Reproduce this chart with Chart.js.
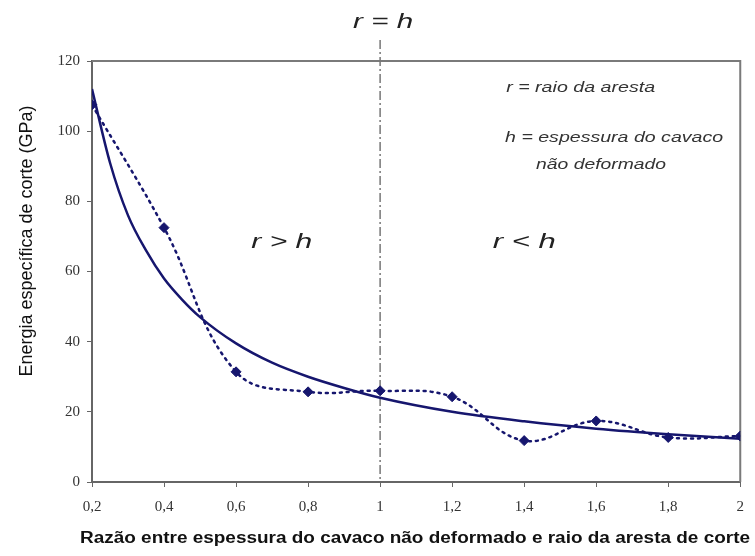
<!DOCTYPE html>
<html>
<head>
<meta charset="utf-8">
<script src="https://cdn.jsdelivr.net/npm/chart.js@4/dist/chart.umd.min.js"></script>
<style>
  html, body { margin: 0; padding: 0; background: #fff; }
  #wrap { width: 755px; height: 556px; }
</style>
</head>
<body>
<div id="wrap"><canvas id="chart" width="755" height="556"></canvas></div>
<script>
////////////
//// Data

let xTicks = [0.2, 0.4, 0.6, 0.8, 1, 1.2, 1.4, 1.6, 1.8, 2];
let yTicks = [0, 20, 40, 60, 80, 100, 120];

// measured points (dotted line with diamonds)
let measX = [0.2, 0.4, 0.6, 0.8, 1.0, 1.2, 1.4, 1.6, 1.8, 2.0];
let measY = [107.5, 72.5, 31.4, 25.7, 26.0, 24.3, 11.8, 17.4, 12.7, 13.1];

// trend curve (solid line)
let trendX = [0.2, 0.25, 0.3, 0.35, 0.4, 0.45, 0.5, 0.6, 0.7, 0.8, 0.9, 1.0, 1.2, 1.4, 1.6, 1.8, 2.0];
let trendY = [112, 91, 76, 66, 58, 52, 47, 39.5, 34, 30, 26.8, 24, 20, 17.3, 15.2, 13.6, 12.3];

let dividerX = 1;

let NAVY = '#16166e';
let SANS = '"Liberation Sans", Arial, sans-serif';
let SERIF = '"Liberation Serif", "Times New Roman", serif';

////////////
//// Helpers

function toPoints(xs, ys) {
	let pts = [];
	for (let i = 0; i < xs.length; ++i) pts.push({x: xs[i], y: ys[i]});
	return pts;
}

function fmt(v) {
	return String(Number(v.toFixed(1))).replace('.', ',');
}

// the source picture is stretched sideways, so text is squeezed to a width
function fitText(c, text, x, y, width, font, align) {
	c.save();
	c.font = font;
	let w = c.measureText(text).width;
	let k = width / w;
	let left = align === 'center' ? x - width / 2 : x;
	c.translate(left, y);
	c.scale(k, 1);
	c.textAlign = 'left';
	c.textBaseline = 'middle';
	c.fillText(text, 0, 0);
	c.restore();
}

// frame, divider line, axis titles and the notes inside the plot
let extras = {
	id: 'extras',
	beforeDatasetsDraw(chart) {
		let c = chart.ctx, a = chart.chartArea;
		let xs = chart.scales.x;
		c.save();
		c.strokeStyle = '#7a7a7a';
		c.lineWidth = 2;
		c.beginPath();
		c.moveTo(a.left, a.top);
		c.lineTo(a.right, a.top);
		c.lineTo(a.right, a.bottom);
		c.stroke();
		let px = xs.getPixelForValue(dividerX);
		c.strokeStyle = '#777';
		c.lineWidth = 1.5;
		c.setLineDash([9, 3, 2, 3]);
		c.beginPath();
		c.moveTo(px, 40);
		c.lineTo(px, a.bottom);
		c.stroke();
		c.restore();
	},
	afterDraw(chart) {
		let c = chart.ctx;
		let xs = chart.scales.x, ys = chart.scales.y;
		let big = 'italic 21px ' + SANS;
		let small = 'italic 14px ' + SANS;

		c.save();
		c.fillStyle = '#222';
		fitText(c, 'r = h', xs.getPixelForValue(dividerX) + 3, 22, 60, big, 'center');
		fitText(c, 'r > h', xs.getPixelForValue(0.727), ys.getPixelForValue(68.4), 61, big, 'center');
		fitText(c, 'r < h', xs.getPixelForValue(1.40), ys.getPixelForValue(68.4), 63, big, 'center');

		c.fillStyle = '#333';
		fitText(c, 'r = raio da aresta', xs.getPixelForValue(1.35), ys.getPixelForValue(112.3), 149, small);
		fitText(c, 'h = espessura do cavaco', xs.getPixelForValue(1.347), ys.getPixelForValue(98), 218, small);
		fitText(c, 'não deformado', xs.getPixelForValue(1.433), ys.getPixelForValue(90.4), 130, small);

		// axis titles
		c.fillStyle = '#111';
		c.font = '18px ' + SANS;
		c.textAlign = 'center';
		c.textBaseline = 'middle';
		c.translate(27, 241);
		c.rotate(-Math.PI / 2);
		c.fillText('Energia específica de corte (GPa)', 0, 0, 283);
		c.restore();

		c.save();
		c.fillStyle = '#111';
		fitText(c, 'Razão entre espessura do cavaco não deformado e raio da aresta de corte',
			415, 539, 670, 'bold 16px ' + SANS, 'center');
		c.restore();
	}
};

////////////
//// Chart

let ctx = document.getElementById('chart').getContext('2d');
let chart = new Chart(ctx, {
	type: 'line',
	data: {
		datasets: [
			{
				label: 'Medido',
				data: toPoints(measX, measY),
				borderColor: NAVY,
				backgroundColor: NAVY,
				borderWidth: 2.5,
				borderDash: [2, 5],
				borderCapStyle: 'round',
				tension: 0.4,
				pointStyle: 'rectRot',
				pointRadius: 5,
				pointBorderWidth: 1,
				fill: false
			},
			{
				label: 'Tendência',
				data: toPoints(trendX, trendY),
				borderColor: NAVY,
				borderWidth: 2.5,
				cubicInterpolationMode: 'monotone',
				pointRadius: 0,
				fill: false
			}
		]
	},
	options: {
		responsive: false,
		animation: false,
		layout: { padding: { top: 61, right: 10, left: 0, bottom: 0 } },
		plugins: { legend: { display: false }, tooltip: { enabled: false } },
		scales: {
			x: {
				type: 'linear',
				min: 0.2,
				max: 2,
				afterBuildTicks: s => { s.ticks = xTicks.map(v => ({value: v})); },
				afterFit: s => { s.height = 74; },
				grid: { drawOnChartArea: false, drawTicks: true, tickLength: 5, color: '#666' },
				border: { color: '#666', width: 2 },
				ticks: {
					callback: v => fmt(v),
					color: '#333',
					padding: 11,
					maxRotation: 0,
					font: { family: SERIF, size: 15 }
				}
			},
			y: {
				min: 0,
				max: 120,
				afterBuildTicks: s => { s.ticks = yTicks.map(v => ({value: v})); },
				afterFit: s => { s.width = 92; },
				grid: { drawOnChartArea: false, drawTicks: true, tickLength: 5, color: '#666' },
				border: { color: '#666', width: 2 },
				ticks: {
					callback: v => fmt(v),
					color: '#333',
					padding: 7,
					font: { family: SERIF, size: 15 }
				}
			}
		}
	},
	plugins: [extras]
});
</script>
</body>
</html>
